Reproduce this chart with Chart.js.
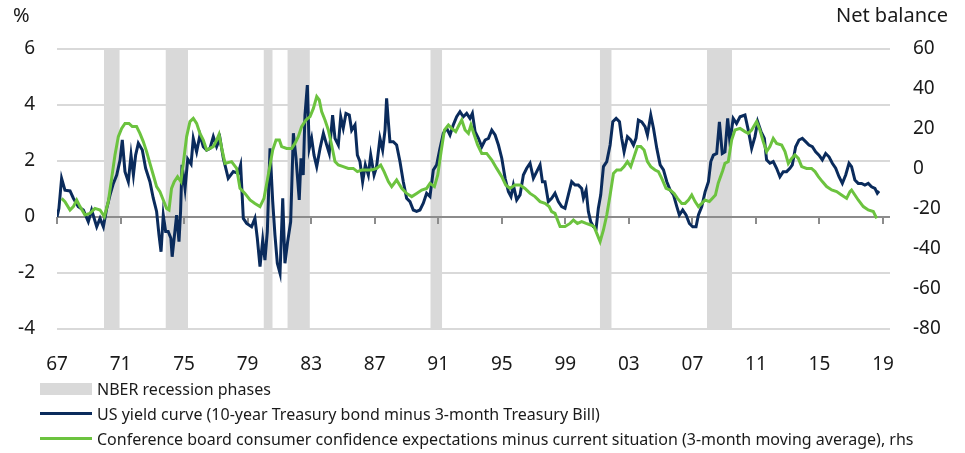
<!DOCTYPE html>
<html>
<head>
<meta charset="utf-8">
<script src="https://cdn.jsdelivr.net/npm/chart.js@4.4.0/dist/chart.umd.min.js"></script>
<style>
  body { margin: 0; background: #fff; font-family: "Noto Sans", sans-serif; color: #1a1a1a; }
  #wrap { position: relative; width: 965px; height: 453px; }
  #chart { position: absolute; left: 0; top: 0; }
  .axTitle { position: absolute; top: 3px; font-size: 20px; line-height: 24px; }
  .legend { position: absolute; left: 40px; top: 376px; font-size: 16px; }
  .row { display: flex; align-items: center; height: 25px; white-space: nowrap; }
  .swatch { width: 52px; margin-right: 5px; flex: none; }
</style>
</head>
<body>
<div id="wrap">
  <canvas id="chart" width="965" height="453"></canvas>
  <div class="axTitle" style="left:13px">%</div>
  <div class="axTitle" style="right:17px">Net balance</div>
  <div class="legend">
    <div class="row"><span class="swatch" style="height:12px;background:#d9d9d9"></span>NBER recession phases</div>
    <div class="row"><span class="swatch" style="height:3px;background:#0a2b5c"></span>US yield curve (10-year Treasury bond minus 3-month Treasury Bill)</div>
    <div class="row"><span class="swatch" style="height:3px;background:#6cc33f"></span>Conference board consumer confidence expectations minus current situation (3-month moving average), rhs</div>
  </div>
</div>
<script>
// x axis in decimal years
const tickYears = [1967, 1971, 1975, 1979, 1983, 1987, 1991, 1995, 1999, 2003, 2007, 2011, 2015, 2019];

// NBER recessions
const recessionStart = [1969.95, 1973.83, 1980.0, 1981.5, 1990.5, 2001.17, 2007.92];
const recessionEnd = [1970.95, 1975.25, 1980.58, 1982.92, 1991.25, 2001.92, 2009.5];

// US yield curve, % (lhs)
const yieldDates = [
  1967.0, 1967.12, 1967.29, 1967.5, 1967.82, 1968.03, 1968.34, 1968.66, 1968.97, 1969.18,
  1969.5, 1969.71, 1969.92, 1970.13, 1970.34, 1970.55, 1970.76, 1970.97, 1971.11, 1971.28,
  1971.49, 1971.66, 1971.81, 1971.95, 1972.12, 1972.37, 1972.58, 1972.85, 1973.06, 1973.27,
  1973.42, 1973.55, 1973.69, 1973.84, 1974.0, 1974.17, 1974.25, 1974.42, 1974.53, 1974.68,
  1974.78, 1974.87, 1975.06, 1975.23, 1975.44, 1975.58, 1975.79, 1976.0, 1976.21, 1976.42,
  1976.63, 1976.84, 1977.05, 1977.26, 1977.47, 1977.78, 1978.1, 1978.41, 1978.56, 1978.73,
  1978.94, 1979.25, 1979.46, 1979.61, 1979.78, 1979.95, 1980.09, 1980.24, 1980.41, 1980.58,
  1980.72, 1980.87, 1981.04, 1981.21, 1981.35, 1981.52, 1981.71, 1981.88, 1982.04, 1982.25,
  1982.36, 1982.5, 1982.61, 1982.76, 1982.88, 1983.03, 1983.18, 1983.35, 1983.56, 1983.77,
  1983.98, 1984.14, 1984.35, 1984.5, 1984.71, 1984.86, 1985.02, 1985.19, 1985.4, 1985.55,
  1985.76, 1985.91, 1986.07, 1986.24, 1986.41, 1986.6, 1986.75, 1986.96, 1987.12, 1987.33,
  1987.5, 1987.65, 1987.75, 1987.86, 1987.96, 1988.17, 1988.38, 1988.59, 1988.8, 1989.01,
  1989.22, 1989.43, 1989.64, 1989.85, 1990.06, 1990.27, 1990.48, 1990.69, 1990.9, 1991.11,
  1991.32, 1991.53, 1991.74, 1991.95, 1992.16, 1992.37, 1992.58, 1992.79, 1993.0, 1993.15,
  1993.32, 1993.53, 1993.74, 1993.95, 1994.16, 1994.37, 1994.58, 1994.79, 1995.0, 1995.21,
  1995.42, 1995.58, 1995.73, 1995.94, 1996.15, 1996.36, 1996.57, 1996.78, 1996.99, 1997.2,
  1997.41, 1997.56, 1997.72, 1997.93, 1998.14, 1998.35, 1998.56, 1998.77, 1998.98, 1999.19,
  1999.4, 1999.61, 1999.82, 2000.03, 2000.14, 2000.31, 2000.45, 2000.6, 2000.77, 2000.94,
  2001.08, 2001.23, 2001.4, 2001.61, 2001.82, 2001.99, 2002.2, 2002.41, 2002.55, 2002.7,
  2002.91, 2003.12, 2003.29, 2003.45, 2003.6, 2003.81, 2004.02, 2004.17, 2004.38, 2004.55,
  2004.76, 2004.97, 2005.18, 2005.39, 2005.6, 2005.81, 2006.02, 2006.18, 2006.39, 2006.6,
  2006.81, 2007.02, 2007.23, 2007.38, 2007.59, 2007.8, 2008.01, 2008.16, 2008.32, 2008.53,
  2008.7, 2008.88, 2009.05, 2009.22, 2009.36, 2009.57, 2009.78, 2010.0, 2010.31, 2010.52,
  2010.73, 2010.94, 2011.11, 2011.32, 2011.53, 2011.67, 2011.88, 2012.09, 2012.3, 2012.51,
  2012.72, 2012.93, 2013.14, 2013.29, 2013.5, 2013.71, 2013.92, 2014.13, 2014.34, 2014.55,
  2014.76, 2014.97, 2015.18, 2015.39, 2015.6, 2015.81, 2016.02, 2016.23, 2016.44, 2016.65,
  2016.86, 2017.02, 2017.23, 2017.44, 2017.65, 2017.86, 2018.07, 2018.28, 2018.49, 2018.64,
  2018.75
];
const yieldValues = [
  0.0, 0.3, 1.38, 0.96, 0.93, 0.67, 0.37, 0.25, -0.17, 0.25,
  -0.35, -0.05, -0.35, 0.31, 0.79, 1.2, 1.5, 2.04, 2.75, 1.62,
  1.26, 2.21, 1.5, 2.21, 2.63, 2.39, 1.74, 1.26, 0.67, 0.2,
  -0.64, -1.24, 0.07, -0.52, -0.52, -0.76, -1.42, -0.52, 0.07, -0.88,
  0.2, 1.86, 1.02, 2.07, 1.89, 2.81, 2.33, 2.93, 2.51, 2.39,
  2.45, 2.87, 2.51, 2.81, 2.1, 1.38, 1.62, 1.56, 1.86, -0.05,
  -0.23, -0.35, -0.05, -0.76, -1.77, -0.82, -1.54, -0.52, 2.45, 0.55,
  -0.64, -1.65, -2.01, 0.67, -1.65, -0.88, -0.17, 2.99, 2.15, 0.61,
  2.1, 1.5, 3.64, 4.71, 2.45, 2.81, 2.21, 1.8, 2.45, 2.99,
  2.57, 2.27, 3.64, 2.81, 2.57, 3.58, 3.17, 3.7, 3.64, 3.1,
  3.29, 2.21, 1.98, 1.26, 1.86, 1.5, 2.21, 1.5, 1.8, 2.81,
  2.39, 3.1, 4.24, 3.4, 2.69, 2.69, 2.57, 1.98, 1.26, 0.67,
  0.55, 0.25, 0.2, 0.25, 0.49, 0.85, 0.73, 1.68, 1.86, 2.45,
  2.99, 3.17, 2.93, 3.29, 3.58, 3.76, 3.58, 3.7, 3.52, 3.7,
  3.05, 2.81, 2.51, 2.75, 2.81, 3.1, 2.93, 2.57, 2.1, 1.38,
  0.9, 0.73, 1.14, 0.61, 0.79, 1.5, 1.74, 1.92, 1.38, 1.62,
  1.86, 1.26, 1.26, 0.55, 0.67, 0.85, 0.55, 0.37, 0.31, 0.79,
  1.26, 1.14, 1.14, 1.02, 0.67, 0.96, 0.2, -0.17, -0.35, -0.41,
  0.31, 0.79, 1.8, 1.98, 2.57, 3.4, 3.52, 3.4, 2.81, 2.33,
  2.87, 2.75, 2.57, 2.81, 3.46, 3.4, 3.23, 2.93, 3.64, 3.17,
  2.45, 1.86, 1.68, 1.26, 0.96, 0.79, 0.37, 0.07, 0.25, 0.07,
  -0.23, -0.35, -0.35, 0.07, 0.37, 0.9, 1.26, 1.98, 2.21, 2.27,
  3.4, 2.27, 2.33, 3.52, 2.69, 3.52, 3.34, 3.58, 3.64, 3.1,
  2.45, 2.87, 3.4, 3.05, 2.81, 2.04, 1.92, 1.98, 1.74, 1.44,
  1.62, 1.62, 1.74, 1.86, 2.51, 2.75, 2.81, 2.69, 2.57, 2.51,
  2.33, 2.21, 2.04, 2.27, 2.15, 1.92, 1.74, 1.44, 1.2, 1.5,
  1.92, 1.8, 1.32, 1.2, 1.2, 1.14, 1.2, 1.08, 1.02, 0.85,
  0.93
];

// Conference board expectations minus current situation, net balance (rhs)
const confDates = [
  1967.29, 1967.5, 1967.82, 1968.03, 1968.24, 1968.45, 1968.76, 1969.07, 1969.39, 1969.71,
  1969.98, 1970.23, 1970.44, 1970.65, 1970.86, 1971.07, 1971.28, 1971.53, 1971.74, 1972.01,
  1972.22, 1972.43, 1972.64, 1972.85, 1973.06, 1973.27, 1973.48, 1973.69, 1973.9, 1974.05,
  1974.21, 1974.38, 1974.59, 1974.8, 1974.95, 1975.16, 1975.37, 1975.58, 1975.79, 1976.0,
  1976.21, 1976.42, 1976.63, 1976.84, 1977.05, 1977.2, 1977.37, 1977.58, 1977.99, 1978.31,
  1978.52, 1978.83, 1979.15, 1979.46, 1979.78, 1980.03, 1980.3, 1980.58, 1980.79, 1981.0,
  1981.14, 1981.46, 1981.77, 1981.98, 1982.19, 1982.4, 1982.67, 1982.93, 1983.14, 1983.35,
  1983.51, 1983.66, 1983.87, 1984.08, 1984.29, 1984.5, 1984.71, 1985.02, 1985.34, 1985.65,
  1985.91, 1986.18, 1986.49, 1986.81, 1987.12, 1987.38, 1987.59, 1987.86, 1988.07, 1988.38,
  1988.7, 1989.01, 1989.33, 1989.64, 1989.96, 1990.27, 1990.48, 1990.76, 1990.97, 1991.18,
  1991.39, 1991.64, 1991.85, 1992.1, 1992.31, 1992.48, 1992.69, 1992.9, 1993.06, 1993.27,
  1993.48, 1993.74, 1994.05, 1994.37, 1994.68, 1995.0, 1995.25, 1995.52, 1995.83, 1996.15,
  1996.46, 1996.78, 1997.09, 1997.41, 1997.72, 1997.98, 1998.14, 1998.35, 1998.67, 1998.98,
  1999.3, 1999.51, 1999.76, 2000.03, 2000.31, 2000.6, 2000.81, 2000.98, 2001.19, 2001.4,
  2001.61, 2001.82, 2002.03, 2002.24, 2002.49, 2002.7, 2002.91, 2003.12, 2003.33, 2003.54,
  2003.75, 2003.96, 2004.17, 2004.38, 2004.65, 2004.86, 2005.07, 2005.34, 2005.6, 2005.85,
  2006.06, 2006.33, 2006.54, 2006.75, 2006.96, 2007.17, 2007.38, 2007.59, 2007.8, 2008.07,
  2008.28, 2008.45, 2008.63, 2008.9, 2009.05, 2009.26, 2009.47, 2009.68, 2010.0, 2010.31,
  2010.52, 2010.73, 2011.04, 2011.25, 2011.46, 2011.67, 2011.88, 2012.09, 2012.3, 2012.62,
  2012.83, 2013.04, 2013.25, 2013.46, 2013.67, 2013.88, 2014.19, 2014.5, 2014.72, 2014.93,
  2015.18, 2015.45, 2015.77, 2016.08, 2016.39, 2016.71, 2016.92, 2017.02, 2017.23, 2017.44,
  2017.76, 2018.07, 2018.39, 2018.6
];
const confValues = [
  -14.7, -16.3, -20.5, -18.8, -15.5, -18.8, -23, -22.2, -19.7, -20.5,
  -23.8, -16.3, -4.7, 7, 16.2, 20.3, 22.8, 22.8, 21.2, 21.2,
  17.8, 13.7, 8.7, 2.8, -3, -8.8, -11.3, -15.5, -19.7, -20.5,
  -9.7, -6.3, -3.8, -6.3, 2.8, 16.2, 23.7, 25.3, 22.8, 17.8,
  14.5, 9.5, 10.3, 11.2, 14.5, 17.3, 10.3, 2.8, 3.7, 0.3,
  -9.7, -12.2, -15.5, -17.2, -18.8, -14.7, -3, 9.5, 14.5, 14.5,
  11.2, 10.3, 10.3, 12.8, 16.2, 21.2, 24.5, 26.2, 30.3, 36.2,
  34.5, 28.7, 24.5, 19.5, 12, 3.7, 2, 1.2, 0.3, 0.3,
  -1.3, -0.5, -0.5, -0.5, 0.3, 2, -1.3, -6.3, -8.8, -5.5,
  -9.7, -12.2, -13.8, -12.2, -10.5, -9.7, -7.2, -8.8, -3, 8.7,
  19.5, 22, 20.3, 18.7, 22, 24.5, 19.5, 17.8, 22, 17,
  12, 7.8, 7.8, 4.5, 0.3, -3.8, -8, -9.7, -8, -8,
  -9.7, -12.2, -13.8, -16.3, -17.2, -18.8, -21.3, -22.2, -28.8, -28.8,
  -27.2, -25.5, -27.2, -26.3, -27.2, -28, -28.8, -32.2, -36.3, -30.5,
  -23, -13, -2.2, -0.5, -0.5, 1.2, 3.7, 1.2, 6.2, 11.2,
  11.2, 9.5, 3.7, 1.2, -0.5, -1.3, -4.7, -9.7, -10.5, -12.2,
  -14.7, -17.2, -17.2, -15.5, -13, -16.3, -18.8, -17.2, -15.5, -16.3,
  -14.5, -13, -7, -1, 2.8, 3.7, 14.5, 19.5, 20.3, 18.7,
  17.8, 19.5, 23.7, 19.5, 13.7, 8.7, 11.2, 15.3, 12.8, 12,
  8.7, 2.8, 5.3, 7, 5.3, 1.2, 0.3, 0.3, -1.3, -3.8,
  -6.3, -8.8, -10.5, -11.3, -13, -14.7, -11.3, -10.5, -13, -15.5,
  -18.8, -20.5, -21.3, -24.7
];

// shaded bands: flat line at the top of the lhs scale, filled down to its start
const recessionPoints = [];
recessionStart.forEach((s, i) => {
  recessionPoints.push({ x: s, y: 6 }, { x: recessionEnd[i], y: 6 }, { x: recessionEnd[i] + 0.01, y: null });
});

const gridGrey = '#d9d9d9';
const axisGrey = '#8c8c8c';

// zero line with small year ticks, drawn over the recession shading
const zeroAxis = {
  id: 'zeroAxis',
  afterDatasetDraw(chart, args) {
    if (args.index !== 0) return;
    const ctx = chart.ctx;
    const x = chart.scales.x;
    const y0 = chart.scales.y.getPixelForValue(0);
    const area = chart.chartArea;
    ctx.save();
    ctx.strokeStyle = axisGrey;
    ctx.lineWidth = 2;
    ctx.beginPath();
    ctx.moveTo(area.left, y0);
    ctx.lineTo(area.right, y0);
    tickYears.forEach(t => {
      const px = Math.round(x.getPixelForValue(t));
      ctx.moveTo(px, y0);
      ctx.lineTo(px, y0 + 7);
    });
    ctx.stroke();
    ctx.restore();
  }
};

const tickFont = { family: 'Noto Sans', size: 19 };

new Chart(document.getElementById('chart'), {
  type: 'line',
  data: {
    datasets: [
      {
        label: 'NBER recession phases',
        data: recessionPoints,
        yAxisID: 'y',
        borderWidth: 0,
        borderColor: 'rgba(0,0,0,0)',
        backgroundColor: gridGrey,
        fill: 'start',
        pointRadius: 0,
        spanGaps: false,
        order: 3
      },
      {
        label: 'US yield curve',
        data: yieldDates.map((d, i) => ({ x: d, y: yieldValues[i] })),
        yAxisID: 'y',
        borderColor: '#0a2b5c',
        borderWidth: 3,
        pointRadius: 0,
        tension: 0,
        order: 2
      },
      {
        label: 'Conference board',
        data: confDates.map((d, i) => ({ x: d, y: confValues[i] })),
        yAxisID: 'y2',
        borderColor: '#6cc33f',
        borderWidth: 3,
        pointRadius: 0,
        tension: 0,
        order: 1
      }
    ]
  },
  options: {
    responsive: false,
    animation: false,
    devicePixelRatio: 1,
    layout: { padding: { top: 49, bottom: 78, left: 0, right: 0 } },
    plugins: { legend: { display: false }, tooltip: { enabled: false } },
    scales: {
      x: {
        type: 'linear',
        min: 1967,
        max: 2019.44,
        afterBuildTicks: s => { s.ticks = tickYears.map(v => ({ value: v })); },
        afterFit: s => { s.height = 46; },
        grid: { display: false },
        border: { display: false },
        ticks: {
          font: tickFont,
          color: '#1a1a1a',
          padding: 16,
          maxRotation: 0,
          autoSkip: false,
          callback: v => String(v % 100).padStart(2, '0')
        }
      },
      y: {
        position: 'left',
        min: -4,
        max: 6,
        afterFit: s => { s.width = 57; },
        border: { display: false },
        grid: {
          drawTicks: false,
          lineWidth: 2,
          color: c => (c.tick.value === 0 ? axisGrey : gridGrey)
        },
        ticks: { stepSize: 2, font: tickFont, color: '#1a1a1a', padding: 22 }
      },
      y2: {
        position: 'right',
        min: -80,
        max: 60,
        afterFit: s => { s.width = 75; },
        border: { display: false },
        grid: { drawOnChartArea: false, drawTicks: false },
        ticks: { stepSize: 20, font: tickFont, color: '#1a1a1a', padding: 23 }
      }
    }
  },
  plugins: [zeroAxis]
});
</script>
</body>
</html>
